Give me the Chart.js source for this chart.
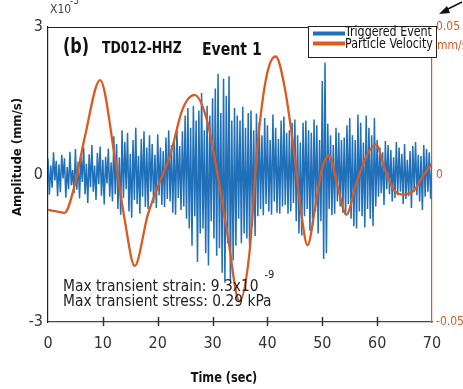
<!DOCTYPE html>
<html>
<head>
<meta charset="utf-8">
<script src="https://cdn.jsdelivr.net/npm/chart.js@4.4.1/dist/chart.umd.min.js"></script>
<style>
  body { margin: 0; background: #fff; }
  canvas { display: block; }
</style>
</head>
<body>
<canvas id="grafico" width="463" height="389"></canvas>
<script>
const FUENTE = '"Liberation Sans Narrow", "DejaVu Sans Condensed", "Liberation Sans", sans-serif';
const AZUL = '#1f70b8';
const NARANJA = '#dc5a22';

// Triggered event (x10^-3 mm/s), one sample every 0.25 s
const PASO_MUESTRA = 0.25;
const eventoAmplitud = [
  0.32,-0.41,0.18,-0.27, 0.45,-0.12,0.28,-0.44, 0.21,-0.36,0.40,-0.08, 0.33,-0.47,0.15,-0.30,
  0.46,-0.22,0.09,-0.38, 0.52,-0.31,0.26,-0.49, 0.38,-0.15,0.55,-0.40, 0.22,-0.58,0.41,-0.26,
  0.60,-0.35,0.18,-0.52, 0.44,-0.20,0.57,-0.43, 0.30,-0.61,0.36,-0.18, 0.53,-0.45,0.25,-0.55,
  0.78,-0.40,0.62,-0.70, 0.35,-0.82,0.90,-0.48, 0.66,-0.30,0.85,-0.75, 0.42,-0.88,0.70,-0.52,
  0.95,-0.60,0.38,-0.80, 0.72,-0.45,0.88,-0.66, 0.55,-0.70,0.80,-0.35, 0.62,-0.58,0.40,-0.68,
  0.82,-0.42,0.55,-0.62, 0.48,-0.66,0.75,-0.50, 0.90,-0.55,0.60,-0.78, 0.70,-0.82,0.95,-0.48,
  0.58,-0.72,0.88,-0.65, 1.20,-0.90,1.35,-1.10, 0.95,-1.45,1.40,-0.85, 1.10,-1.78,1.30,-1.20,
  1.66,-1.10,0.90,-1.60, 1.40,-1.85,1.20,-0.95, 1.55,-1.30,1.75,-1.65, 2.05,-1.50,1.25,-2.00,
  1.95,-2.20,1.60,-1.40, 2.00,-2.15,1.10,-1.75, 1.35,-1.45,1.20,-0.90, 1.10,-1.40,1.38,-1.20,
  0.95,-1.30,1.25,-1.45, 1.30,-1.05,0.90,-1.25, 1.24,-0.85,1.05,-0.70, 0.80,-0.83,1.15,-0.60,
  1.00,-0.75,0.70,-0.82, 1.22,-0.55,0.95,-0.78, 0.72,-0.80,1.10,-0.65, 1.18,-0.62,0.85,-0.80,
  0.90,-0.75,1.05,-0.58, 1.12,-0.95,0.80,-1.20, 0.65,-1.24,1.05,-0.85, 1.10,-0.70,0.90,-1.15,
  0.85,-1.05,1.12,-0.75, 1.00,-1.20,0.70,-0.95, 1.90,-1.72,2.28,-1.60, 1.03,-0.70,0.80,-0.83,
  0.60,-0.80,0.95,-0.55, 0.85,-0.65,0.70,-0.78, 0.75,-0.83,1.00,-0.60, 1.15,-0.90,0.80,-1.05,
  0.70,-1.10,1.22,-0.75, 1.05,-0.85,0.65,-1.08, 1.20,-0.70,0.95,-0.90, 0.80,-1.05,1.15,-0.65,
  0.70,-0.45,0.55,-0.38, 0.45,-0.62,0.68,-0.30, 0.60,-0.40,0.50,-0.55, 0.35,-0.48,0.66,-0.42,
  0.55,-0.35,0.42,-0.60, 0.62,-0.50,0.30,-0.44, 0.48,-0.68,0.58,-0.36, 0.66,-0.42,0.40,-0.55,
  0.38,-0.72,0.60,-0.45, 0.52,-0.35,0.45,-0.50, 0.20
];

// Particle velocity (mm/s), right axis
const velocidadTiempo = [0, 1.5, 3, 4.9, 6.7, 9.5, 12.2, 14, 15.8, 18.2, 20.7, 22.2, 24.5, 26.7, 28.9,
  30.7, 32.7, 34.9, 36.7, 38.2, 39.8, 41.5, 43.1, 44.9, 46.2, 47.3, 48.9, 50, 51.3, 52.7, 54.4,
  56.2, 58.2, 59.8, 61.3, 63.1, 64.9, 66.7, 68.2, 70];
const velocidadValor = [-0.012, -0.0125, -0.013, -0.0034, 0.0126, 0.032, 0.0058, -0.0156, -0.031,
  -0.0136, -0.001, 0.006, 0.022, 0.027, 0.019, 0.0024, -0.020, -0.043, -0.027, 0.010, 0.033,
  0.040, 0.030, 0.007, -0.0136, -0.024, -0.0088, 0.0024, 0.0065, -0.0034, -0.0136, -0.003,
  0.0068, 0.0102, 0.0024, -0.0054, -0.0068, -0.0054, -0.001, 0.0038];

const ticksTiempo = [0, 10, 20, 30, 40, 50, 60, 70];
const ticksAmplitud = [-3, 0, 3];
const ticksVelocidad = [-0.05, 0, 0.05];

const puntosEvento = eventoAmplitud.map(function(v, i) { return {x: i * PASO_MUESTRA, y: v}; });
const puntosVelocidad = velocidadTiempo.map(function(t, i) { return {x: t, y: velocidadValor[i]}; });

// texto angosto (la fuente del original es condensada)
function textoAngosto(ctx, texto, x, y, escala) {
  ctx.save();
  ctx.translate(x, y);
  ctx.scale(escala, 1);
  ctx.fillText(texto, 0, 0);
  ctx.restore();
}

// Textos, leyenda y marcas extra
const extras = {
  id: 'extras',
  afterDraw: function(chart) {
    const ctx = chart.ctx;
    const area = chart.chartArea;
    const sx = chart.scales.x;
    ctx.save();

    // borde superior
    ctx.strokeStyle = '#222';
    ctx.lineWidth = 1;
    ctx.beginPath();
    ctx.moveTo(area.left, area.top + 0.5);
    ctx.lineTo(310, area.top + 0.5);
    ctx.stroke();

    // marcas del eje x
    ctx.strokeStyle = '#333';
    ctx.lineWidth = 1.5;
    ticksTiempo.forEach(function(t) {
      if (t === 0 || t === 70) return;
      const px = Math.round(sx.getPixelForValue(t)) + 0.5;
      ctx.beginPath();
      ctx.moveTo(px, area.bottom - 5);
      ctx.lineTo(px, area.bottom + 4);
      ctx.stroke();
    });

    // leyenda
    ctx.fillStyle = '#fff';
    ctx.fillRect(308, 26, 128, 31);
    ctx.strokeStyle = '#222';
    ctx.lineWidth = 1;
    ctx.strokeRect(308.5, 26.5, 128, 31);
    ctx.lineWidth = 4;
    ctx.strokeStyle = AZUL;
    ctx.beginPath(); ctx.moveTo(313, 33.5); ctx.lineTo(345, 33.5); ctx.stroke();
    ctx.strokeStyle = NARANJA;
    ctx.beginPath(); ctx.moveTo(313, 43.5); ctx.lineTo(345, 43.5); ctx.stroke();
    ctx.fillStyle = '#111';
    ctx.textAlign = 'left';
    ctx.textBaseline = 'middle';
    ctx.font = '14px ' + FUENTE;
    textoAngosto(ctx, 'Triggered Event', 345, 32, 0.88);
    textoAngosto(ctx, 'Particle Velocity', 345, 44, 0.88);

    // titulo
    ctx.font = 'bold 21px ' + FUENTE;
    textoAngosto(ctx, '(b)', 63, 48, 0.85);
    ctx.font = 'bold 15px ' + FUENTE;
    textoAngosto(ctx, 'TD012-HHZ', 102, 49, 0.92);
    ctx.font = 'bold 17px ' + FUENTE;
    textoAngosto(ctx, 'Event 1', 202, 51, 0.92);

    // anotaciones
    ctx.fillStyle = '#222';
    ctx.font = '16px ' + FUENTE;
    textoAngosto(ctx, 'Max transient strain: 9.3x10', 63, 287, 0.96);
    const anchoLinea = ctx.measureText('Max transient strain: 9.3x10').width * 0.96;
    textoAngosto(ctx, 'Max transient stress: 0.29 kPa', 63, 302, 0.96);
    ctx.font = '11px ' + FUENTE;
    ctx.fillText('-9', 63 + anchoLinea + 6, 275);

    // multiplicador del eje y
    ctx.fillStyle = '#444';
    ctx.font = '12px ' + FUENTE;
    ctx.fillText('X10', 50, 10);
    ctx.font = '10px ' + FUENTE;
    ctx.fillText('-3', 70, 1);

    // unidades del eje derecho
    ctx.fillStyle = NARANJA;
    ctx.font = '12px ' + FUENTE;
    ctx.fillText('mm/s', 437, 46);

    // titulos de ejes
    ctx.fillStyle = '#111';
    ctx.font = 'bold 14px ' + FUENTE;
    ctx.textAlign = 'center';
    textoAngosto(ctx, 'Time (sec)', 224, 378, 0.9);
    ctx.save();
    ctx.translate(18, 157);
    ctx.rotate(-Math.PI / 2);
    ctx.font = 'bold 13px ' + FUENTE;
    ctx.fillText('Amplitude (mm/s)', 0, 0);
    ctx.restore();

    // flecha
    ctx.strokeStyle = '#111';
    ctx.fillStyle = '#111';
    ctx.lineWidth = 1.5;
    ctx.beginPath(); ctx.moveTo(462, 2); ctx.lineTo(444, 11); ctx.stroke();
    ctx.beginPath();
    ctx.moveTo(439, 14); ctx.lineTo(447, 6); ctx.lineTo(450, 13); ctx.closePath();
    ctx.fill();

    ctx.restore();
  }
};

const ctx = document.getElementById('grafico').getContext('2d');
const grafico = new Chart(ctx, {
  type: 'line',
  data: {
    datasets: [
      {
        label: 'Particle Velocity',
        data: puntosVelocidad,
        yAxisID: 'y2',
        borderColor: NARANJA,
        borderWidth: 2.3,
        pointRadius: 0,
        cubicInterpolationMode: 'monotone',
        fill: false
      },
      {
        label: 'Triggered Event',
        data: puntosEvento,
        yAxisID: 'y',
        borderColor: AZUL,
        borderWidth: 1.5,
        pointRadius: 0,
        tension: 0,
        fill: false
      }
    ]
  },
  options: {
    responsive: false,
    animation: false,
    layout: { padding: { top: 27, left: 0, right: 0, bottom: 0 } },
    plugins: { legend: { display: false }, tooltip: { enabled: false } },
    scales: {
      x: {
        type: 'linear',
        min: 0, max: 70,
        afterFit: function(s) { s.height = 67; },
        afterBuildTicks: function(s) { s.ticks = ticksTiempo.map(function(v) { return {value: v}; }); },
        grid: { display: false, drawTicks: false },
        border: { color: '#444', width: 1.2 },
        ticks: { padding: 12, color: '#333', font: { family: FUENTE, size: 16 }, maxRotation: 0 }
      },
      y: {
        position: 'left',
        min: -3, max: 3,
        afterFit: function(s) { s.width = 48; },
        afterBuildTicks: function(s) { s.ticks = ticksAmplitud.map(function(v) { return {value: v}; }); },
        grid: { display: false, drawTicks: false },
        border: { color: '#222', width: 1.2 },
        ticks: { padding: 5, color: '#333', font: { family: FUENTE, size: 16 } }
      },
      y2: {
        position: 'right',
        min: -0.05, max: 0.05,
        afterFit: function(s) { s.width = 31; },
        afterBuildTicks: function(s) { s.ticks = ticksVelocidad.map(function(v) { return {value: v}; }); },
        grid: { display: false, drawTicks: false },
        border: { color: NARANJA, width: 1.2 },
        ticks: {
          padding: 4, color: NARANJA, font: { family: FUENTE, size: 12 },
          callback: function(v) { return v === 0 ? '0' : v.toFixed(2); }
        }
      }
    }
  },
  plugins: [extras]
});
</script>
</body>
</html>
